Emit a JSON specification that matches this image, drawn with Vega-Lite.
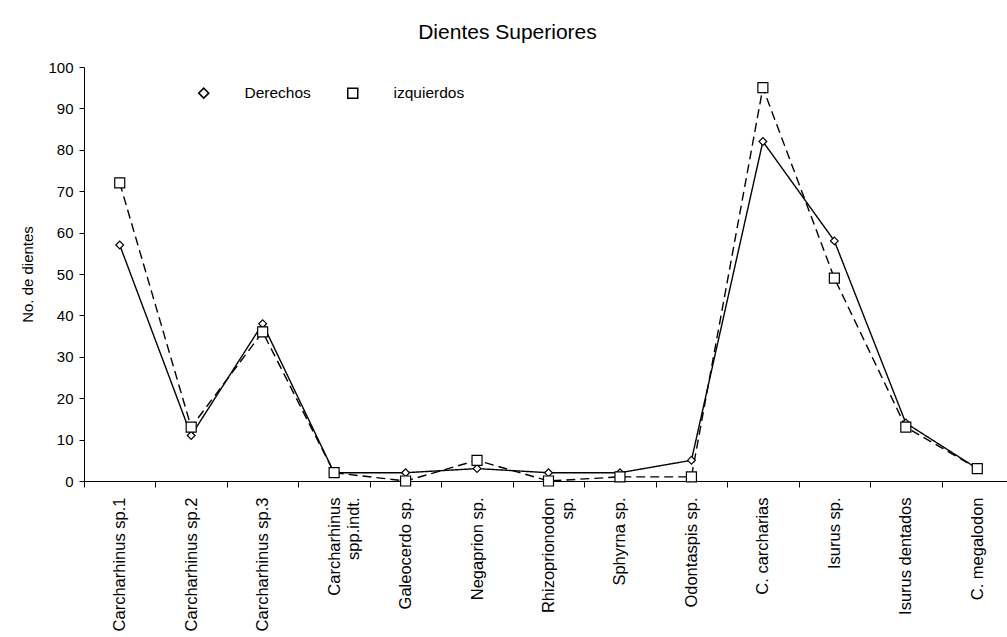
{
  "$schema": "https://vega.github.io/schema/vega-lite/v6.json",
  "autosize": "none",
  "width": 929,
  "height": 414,
  "padding": {"left": 84, "top": 67, "right": 0, "bottom": 156},
  "background": "white",
  "title": {"text": "Dientes Superiores", "font": "Liberation Sans", "fontSize": 21, "fontWeight": "normal", "color": "black", "offset": 17, "dx": -41},
  "data": {"values": [
    {"especie": "Carcharhinus sp.1", "lado": "Derechos", "n": 57},
    {"especie": "Carcharhinus sp.2", "lado": "Derechos", "n": 11},
    {"especie": "Carcharhinus sp.3", "lado": "Derechos", "n": 38},
    {"especie": "Carcharhinus spp.indt.", "lado": "Derechos", "n": 2},
    {"especie": "Galeocerdo sp.", "lado": "Derechos", "n": 2},
    {"especie": "Negaprion sp.", "lado": "Derechos", "n": 3},
    {"especie": "Rhizoprionodon sp.", "lado": "Derechos", "n": 2},
    {"especie": "Sphyrna sp.", "lado": "Derechos", "n": 2},
    {"especie": "Odontaspis sp.", "lado": "Derechos", "n": 5},
    {"especie": "C. carcharias", "lado": "Derechos", "n": 82},
    {"especie": "Isurus sp.", "lado": "Derechos", "n": 58},
    {"especie": "Isurus dentados", "lado": "Derechos", "n": 14},
    {"especie": "C. megalodon", "lado": "Derechos", "n": 3},
    {"especie": "Carcharhinus sp.1", "lado": "izquierdos", "n": 72},
    {"especie": "Carcharhinus sp.2", "lado": "izquierdos", "n": 13},
    {"especie": "Carcharhinus sp.3", "lado": "izquierdos", "n": 36},
    {"especie": "Carcharhinus spp.indt.", "lado": "izquierdos", "n": 2},
    {"especie": "Galeocerdo sp.", "lado": "izquierdos", "n": 0},
    {"especie": "Negaprion sp.", "lado": "izquierdos", "n": 5},
    {"especie": "Rhizoprionodon sp.", "lado": "izquierdos", "n": 0},
    {"especie": "Sphyrna sp.", "lado": "izquierdos", "n": 1},
    {"especie": "Odontaspis sp.", "lado": "izquierdos", "n": 1},
    {"especie": "C. carcharias", "lado": "izquierdos", "n": 95},
    {"especie": "Isurus sp.", "lado": "izquierdos", "n": 49},
    {"especie": "Isurus dentados", "lado": "izquierdos", "n": 13},
    {"especie": "C. megalodon", "lado": "izquierdos", "n": 3}
  ]},
  "encoding": {
    "x": {
      "field": "especie", "type": "nominal", "sort": null,
      "scale": {"paddingInner": 0, "paddingOuter": 0},
      "axis": {
        "title": null, "labelAngle": -90, "labelAlign": "right", "labelBaseline": "middle",
        "labelFont": "Liberation Sans", "labelFontSize": 16.5, "labelColor": "black",
        "labelPadding": 10, "tickBand": "extent", "tickSize": 6, "tickColor": "black",
        "domainColor": "black", "grid": false, "labelLimit": 200,
        "labelExpr": "datum.value == 'Carcharhinus spp.indt.' ? ['Carcharhinus', 'spp.indt.'] : datum.value == 'Rhizoprionodon sp.' ? ['Rhizoprionodon', 'sp.'] : datum.value",
        "labelLineHeight": 19
      }
    },
    "y": {
      "field": "n", "type": "quantitative",
      "scale": {"domain": [0, 100], "nice": false},
      "axis": {
        "title": "No. de dientes", "titleFont": "Liberation Sans", "titleFontSize": 15,
        "titleFontWeight": "normal", "titleColor": "black", "titlePadding": 12,
        "labelFont": "Liberation Sans", "labelFontSize": 15, "labelColor": "black",
        "values": [0, 10, 20, 30, 40, 50, 60, 70, 80, 90, 100],
        "tickSize": 5, "tickColor": "black", "domainColor": "black", "grid": false, "labelPadding": 6
      }
    }
  },
  "layer": [
    {
      "mark": {"type": "line", "color": "black", "strokeWidth": 1.4},
      "encoding": {
        "detail": {"field": "lado", "type": "nominal"},
        "strokeDash": {"condition": {"test": "datum.lado == 'izquierdos'", "value": [9, 5]}, "value": [1, 0]}
      }
    },
    {
      "mark": {"type": "point", "filled": false, "fill": "white", "stroke": "black", "strokeWidth": 1.2, "opacity": 1, "fillOpacity": 1},
      "encoding": {
        "shape": {
          "field": "lado", "type": "nominal",
          "scale": {"domain": ["Derechos", "izquierdos"], "range": ["diamond", "square"]},
          "legend": {
            "encode": {
              "symbols": {"update": {
                "stroke": {"value": "black"}, "fill": {"value": "white"}, "fillOpacity": {"value": 1},
                "strokeWidth": {"value": 1.1}, "opacity": {"value": 1},
                "size": {"value": 64},
                "shape": [
                  {"test": "datum.value == 'Derechos'", "value": "M-7.5,0L-0.9,0M0.9,0L7.5,0M0,-1.1L0.9,0L0,1.1L-0.9,0Z"},
                  {"value": "M-5.6,0L-3.8,0M-2.8,0L-1.4,0M1.4,0L2.8,0M3.8,0L5.6,0M-1.4,-1.4L1.4,-1.4L1.4,1.4L-1.4,1.4Z"}
                ]
              }}
            }
          }
        },
        "size": {"condition": {"test": "datum.lado == 'izquierdos'", "value": 100}, "value": 60}
      }
    }
  ],
  "config": {
    "view": {"stroke": null},
    "legend": {
      "title": null, "orient": "none", "legendX": 112, "legendY": 18, "direction": "horizontal",
      "labelFont": "Liberation Sans", "labelFontSize": 15.5, "labelColor": "black",
      "labelOffset": 33, "columnPadding": 33
    }
  }
}
